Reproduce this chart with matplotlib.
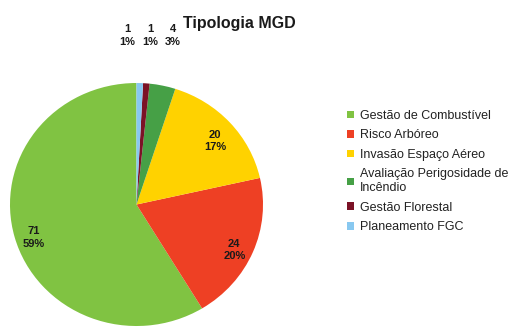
import numpy as np
import matplotlib
matplotlib.use('Agg')
import matplotlib.pyplot as plt

categories = ['Gestão de Combustível', 'Risco Arbóreo', 'Invasão Espaço Aéreo',
              'Avaliação Perigosidade de\nIncêndio', 'Gestão Florestal', 'Planeamento FGC']
counts = [71, 24, 20, 4, 1, 1]
colors = ['#80c342', '#ee4024', '#ffd200', '#46a046', '#7b1226', '#88c8f0']

plt.rcParams['font.family'] = ['Liberation Sans', 'DejaVu Sans']

fig = plt.figure(figsize=(5.15, 3.29), dpi=100)
ax = fig.add_axes([0.0194, 0.0091, 0.4913, 0.7386])

total = sum(counts)
wedges, _ = ax.pie(counts, colors=colors, startangle=90, counterclock=True,
                   wedgeprops=dict(linewidth=0))
ax.set_aspect('auto')
ax.set_xlim(-1, 1)
ax.set_ylim(-1, 1)

# value + percent labels: inside for the big slices, above the pie for the thin ones
nudge = {5: -0.11}
for i, (w, v) in enumerate(zip(wedges, counts)):
    ang = np.deg2rad((w.theta1 + w.theta2) / 2)
    txt = '%d\n%d%%' % (v, round(100 * v / total))
    if v / total > 0.05:
        r = 0.84
        x, y = r * np.cos(ang), r * np.sin(ang) - 0.045
    else:
        x, y = 1.38 * np.cos(ang) + nudge.get(i, 0), 1.39
    ax.text(x, y, txt, ha='center', va='center', fontsize=8, fontweight='bold',
            color='#1a1a1a', linespacing=1.3)

fig.text(0.464, 0.930, 'Tipologia MGD', ha='center', va='center',
         fontsize=11.5, fontweight='bold', color='#1a1a1a')

fig.legend(wedges, categories, loc='upper left', bbox_to_anchor=(0.662, 0.685),
           frameon=False, fontsize=9, handlelength=0.55, handleheight=0.55,
           handletextpad=0.5, labelspacing=0.6, borderpad=0, labelcolor='#222222')

fig.savefig('out.png', dpi=100)
